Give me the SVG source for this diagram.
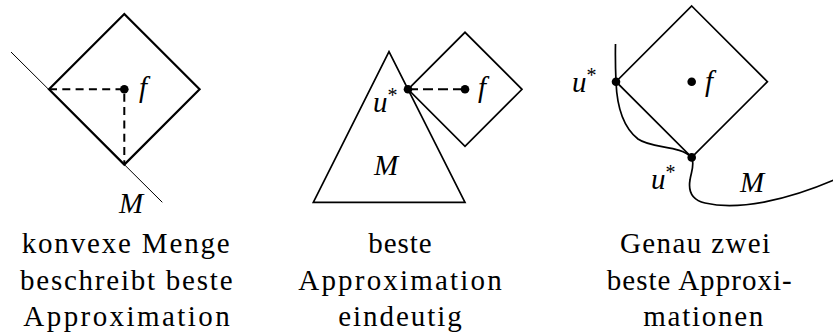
<svg xmlns="http://www.w3.org/2000/svg" width="833" height="336" viewBox="0 0 833 336">
<style>
.bg{fill:#fff}
.thick{fill:none;stroke:#000;stroke-width:2.2;stroke-linejoin:miter}
.med{fill:none;stroke:#000;stroke-width:1.7;stroke-linejoin:miter}
.thin{fill:none;stroke:#000;stroke-width:1}
.dash1{fill:none;stroke:#000;stroke-width:2;stroke-dasharray:8 5.3}
.dash2{fill:none;stroke:#000;stroke-width:2;stroke-dasharray:10 5}
.dot{fill:#000}
text{font-family:'Liberation Serif','Times New Roman',serif;fill:#000}
.cap{font-size:29px}
.math{font-style:italic;font-size:29px}
.star{font-style:normal;font-size:20px}
</style>
<rect class="bg" x="0" y="0" width="833" height="336"/>

<g id="panel1">
  <line class="thin" x1="11" y1="52" x2="162.3" y2="202.3"/>
  <polygon class="thick" points="124.3,14 199.6,89.3 124.3,164.6 49,89.3"/>
  <path class="dash1" d="M49,89.3 H124.3 V164.6"/>
  <circle class="dot" cx="124.3" cy="89.3" r="4.3"/>
  <text class="math" x="139" y="97">f</text>
  <text class="math" x="119" y="213">M</text>
  <text class="cap" x="21.7" y="253" textLength="208" lengthAdjust="spacing">konvexe Menge</text>
  <text class="cap" x="20" y="289.5" textLength="212.5" lengthAdjust="spacing">beschreibt beste</text>
  <text class="cap" x="23.3" y="326.3" textLength="206.5" lengthAdjust="spacing">Approximation</text>
</g>

<g id="panel2">
  <polygon class="med" points="389,51.7 465,202.3 313.3,202.3"/>
  <polygon class="med" points="408,89.3 465,32.3 522,89.3 465,146.3"/>
  <path class="dash2" d="M408,89.3 H465"/>
  <circle class="dot" cx="408" cy="89.3" r="4.3"/>
  <circle class="dot" cx="465" cy="89.3" r="4.3"/>
  <text class="math" x="478" y="97">f</text>
  <text class="math" x="373" y="112">u<tspan class="star" dy="-10">*</tspan></text>
  <text class="math" x="374" y="175">M</text>
  <text class="cap" x="368.3" y="253" textLength="63.4" lengthAdjust="spacing">beste</text>
  <text class="cap" x="298.3" y="289.5" textLength="203.4" lengthAdjust="spacing">Approximation</text>
  <text class="cap" x="338.3" y="326.3" textLength="123.4" lengthAdjust="spacing">eindeutig</text>
</g>

<g id="panel3">
  <polygon class="med" points="691.7,6 767.4,81.7 691.7,157.4 616,81.7"/>
  <path class="med" d="M615.5,44 C615.2,58 615.5,70 616,81.7 C617,108 624,128 638,139 C652,149 680,145 691.7,157.4 C695,165 691,172 690,180 C688,192 692,200 705,203 C740,211 790,199 834,180"/>
  <circle class="dot" cx="616" cy="81.7" r="4.3"/>
  <circle class="dot" cx="691.7" cy="157.4" r="4.3"/>
  <circle class="dot" cx="691.7" cy="81.7" r="4.3"/>
  <text class="math" x="705" y="91">f</text>
  <text class="math" x="572" y="92">u<tspan class="star" dy="-10">*</tspan></text>
  <text class="math" x="651" y="189">u<tspan class="star" dy="-10">*</tspan></text>
  <text class="math" x="740" y="191.5">M</text>
  <text class="cap" x="620" y="253" textLength="150" lengthAdjust="spacing">Genau zwei</text>
  <text class="cap" x="606.7" y="289.5" textLength="185" lengthAdjust="spacing">beste Approxi-</text>
  <text class="cap" x="643.3" y="326.3" textLength="120" lengthAdjust="spacing">mationen</text>
</g>
</svg>
